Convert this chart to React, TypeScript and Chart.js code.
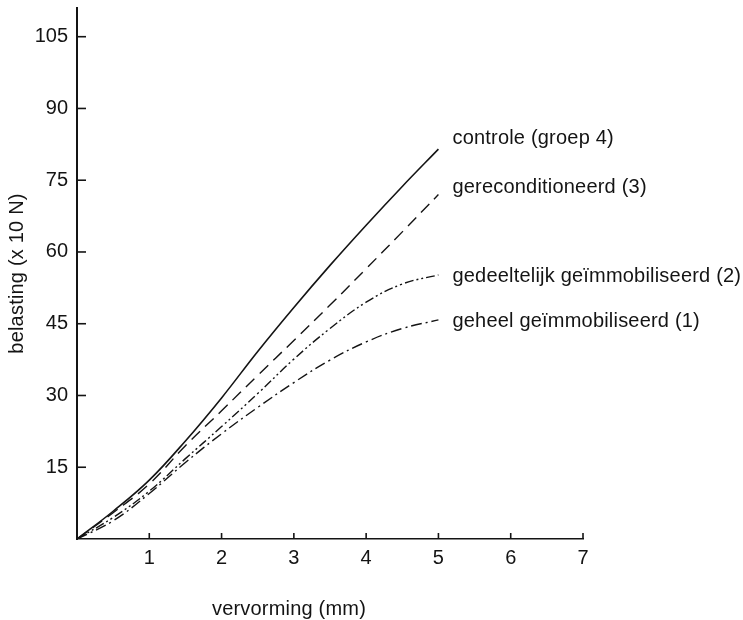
import React, { useEffect, useRef } from 'react';
import { Chart, registerables } from 'chart.js';

Chart.register(...registerables);

// ---- data ----
const deformation = [0, 0.5, 1, 1.5, 2, 2.5, 3, 3.5, 4, 4.5, 5];
const controle = [0, 5.8, 12.3, 20.5, 29.5, 39.2, 48.4, 57.2, 65.6, 73.7, 81.5];
const gereconditioneerd = [0, 5.5, 11.5, 19.5, 26.8, 34.2, 41.5, 48.9, 56.5, 64.2, 72.0];
const gedeeltelijk = [0, 4.5, 10.0, 16.8, 23.5, 30.4, 37.6, 44.0, 49.5, 53.3, 55.2];
const geheel = [0, 3.8, 9.5, 16.0, 22.0, 27.5, 32.7, 37.4, 41.2, 44.0, 45.8];

const seriesNames = [
  'controle (groep 4)',
  'gereconditioneerd (3)',
  'gedeeltelijk geïmmobiliseerd (2)',
  'geheel geïmmobiliseerd (1)',
];
const seriesValues = [controle, gereconditioneerd, gedeeltelijk, geheel];

const xTickValues = [1, 2, 3, 4, 5, 6, 7];
const yTickValues = [15, 30, 45, 60, 75, 90, 105];
const xTitle = 'vervorming (mm)';
const yTitle = 'belasting (x 10 N)';

// ---- styles ----
const INK = '#141414';
const FONT_FAMILY = '"Liberation Sans", Arial, Helvetica, sans-serif';
const dashes: number[][] = [[], [12, 7], [9, 3, 2, 3, 2, 3], [11, 4, 2, 4]];
const labelOffsets = [-5, -1.5, 7, 7];

const decorPlugin = {
  id: 'decor',
  afterDraw(chart: any) {
    const { ctx } = chart;
    const xs = chart.scales.x;
    const ys = chart.scales.y;
    ctx.save();
    ctx.strokeStyle = INK;
    ctx.fillStyle = INK;
    ctx.lineWidth = 1.6;
    ctx.setLineDash([]);
    // inward tick marks
    yTickValues.forEach((v) => {
      const py = ys.getPixelForValue(v);
      ctx.beginPath();
      ctx.moveTo(xs.left, py);
      ctx.lineTo(xs.left + 9, py);
      ctx.stroke();
    });
    xTickValues.forEach((v) => {
      const px = xs.getPixelForValue(v);
      ctx.beginPath();
      ctx.moveTo(px, ys.bottom);
      ctx.lineTo(px, ys.bottom - 6);
      ctx.stroke();
    });
    // curve labels
    ctx.font = `20px ${FONT_FAMILY}`;
    try { (ctx as any).letterSpacing = '0.2px'; } catch (e) {}
    ctx.textAlign = 'left';
    ctx.textBaseline = 'alphabetic';
    chart.data.datasets.forEach((ds: any, i: number) => {
      const last = ds.data[ds.data.length - 1];
      const px = xs.getPixelForValue(last.x) + 14;
      const py = ys.getPixelForValue(last.y) + labelOffsets[i];
      ctx.fillText(ds.label, px, py);
    });
    // axis titles
    ctx.textAlign = 'center';
    ctx.fillText(xTitle, xs.left + 212, chart.height - 5);
    ctx.translate(23, (ys.top + ys.bottom) / 2);
    ctx.rotate(-Math.PI / 2);
    ctx.fillText(yTitle, 0, 0);
    ctx.restore();
  },
};

const whiteBg = {
  id: 'whiteBg',
  beforeDraw(chart: any) {
    const { ctx } = chart;
    ctx.save();
    ctx.fillStyle = '#ffffff';
    ctx.fillRect(0, 0, chart.width, chart.height);
    ctx.restore();
  },
};

export default function App() {
  const canvasRef = useRef<HTMLCanvasElement | null>(null);

  useEffect(() => {
    if (!canvasRef.current) return;
    const datasets = seriesValues.map((vals, i) => ({
      label: seriesNames[i],
      data: deformation.map((x, j) => ({ x, y: vals[j] })),
      borderColor: INK,
      borderWidth: i === 0 ? 1.6 : 1.4,
      borderDash: dashes[i],
      pointRadius: 0,
      fill: false,
      tension: 0.4,
    }));

    const chart = new Chart(canvasRef.current, {
      type: 'line',
      data: { datasets },
      options: {
        animation: false,
        responsive: false,
        maintainAspectRatio: false,
        layout: { padding: { top: 8, right: 160, left: 0, bottom: 0 } },
        plugins: {
          legend: { display: false },
          tooltip: { enabled: false },
        },
        scales: {
          x: {
            type: 'linear',
            min: 0,
            max: 7,
            afterFit: (s: any) => { s.height = 81; s.paddingLeft = 0; s.paddingRight = 0; },
            grid: { display: false, drawTicks: false },
            border: { display: true, color: INK, width: 1.6 },
            ticks: {
              stepSize: 1,
              padding: 7,
              color: INK,
              font: { family: FONT_FAMILY, size: 20 },
              callback: (v: any) => (v === 0 ? '' : String(v)),
            },
          },
          y: {
            type: 'linear',
            min: 0,
            max: 111,
            afterFit: (s: any) => { s.width = 77; s.paddingTop = 0; s.paddingBottom = 0; },
            grid: { display: false, drawTicks: false },
            border: { display: true, color: INK, width: 2 },
            ticks: {
              stepSize: 15,
              includeBounds: false,
              padding: 9,
              color: INK,
              font: { family: FONT_FAMILY, size: 20 },
              callback: (v: any) => (v === 0 ? '' : String(v)),
            },
          },
        },
      },
      plugins: [whiteBg, decorPlugin],
    });
    return () => chart.destroy();
  }, []);

  return (
    <div style={{ position: 'absolute', left: 0, top: 0, width: 743, height: 620 }}>
      <canvas ref={canvasRef} width={743} height={620} style={{ width: 743, height: 620 }} />
    </div>
  );
}
